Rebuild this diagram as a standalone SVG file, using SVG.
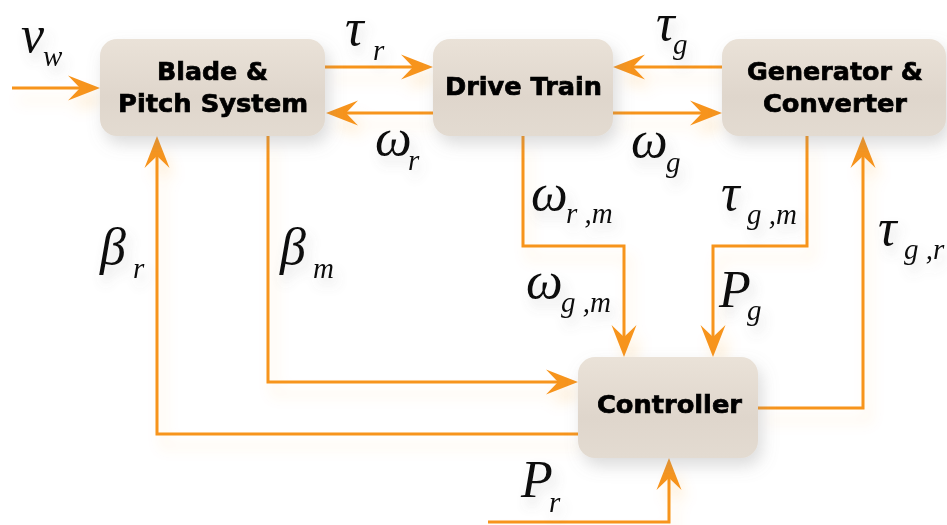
<svg xmlns="http://www.w3.org/2000/svg" width="947" height="525" viewBox="0 0 947 525">
<defs>
<linearGradient id="boxg" x1="0" y1="0" x2="0" y2="1">
<stop offset="0" stop-color="#EAE2D8"/>
<stop offset="0.6" stop-color="#DFD6CC"/>
<stop offset="1" stop-color="#E3DBD1"/>
</linearGradient>
<filter id="boxsh" x="-30%" y="-40%" width="160%" height="190%">
<feGaussianBlur in="SourceAlpha" stdDeviation="8" result="b"/>
<feOffset in="b" dx="4" dy="8" result="o"/>
<feFlood flood-color="#8a8a8a" flood-opacity="0.3"/>
<feComposite in2="o" operator="in" result="s"/>
<feMerge><feMergeNode in="s"/><feMergeNode in="SourceGraphic"/></feMerge>
</filter>
<filter id="glow" x="-10%" y="-10%" width="120%" height="130%">
<feGaussianBlur in="SourceAlpha" stdDeviation="7" result="b"/>
<feOffset in="b" dx="6" dy="12" result="o"/>
<feFlood flood-color="#F7941D" flood-opacity="0.16"/>
<feComposite in2="o" operator="in" result="s"/>
<feMerge><feMergeNode in="s"/><feMergeNode in="SourceGraphic"/></feMerge>
</filter>
<filter id="tsh" x="-30%" y="-30%" width="180%" height="180%">
<feGaussianBlur in="SourceAlpha" stdDeviation="6" result="b"/>
<feOffset in="b" dx="4" dy="8" result="o"/>
<feFlood flood-color="#707070" flood-opacity="0.22"/>
<feComposite in2="o" operator="in" result="s"/>
<feMerge><feMergeNode in="s"/><feMergeNode in="SourceGraphic"/></feMerge>
</filter>
<marker id="ah" markerUnits="userSpaceOnUse" markerWidth="36" markerHeight="30" viewBox="-26 -15 36 30" refX="0" refY="0" orient="auto">
<path d="M8,0 L-24,-12.5 L-12,0 L-24,12.5 Z" fill="#F7941D"/>
</marker>
</defs>
<style>
.box{fill:url(#boxg);}
.nt{font-family:"DejaVu Sans","Liberation Sans",sans-serif;font-weight:bold;font-size:25px;fill:#000;stroke:#000;stroke-width:0.7;text-anchor:middle;}
.c{fill:none;stroke:#F7941D;stroke-width:3;}
.a{marker-end:url(#ah);}
.m{font-family:"Liberation Serif","Times New Roman",serif;font-style:italic;font-size:52px;fill:#111;}
.s{font-size:29px;}
</style>

<g id="connectors" filter="url(#glow)">
<path class="c a" d="M12,88 H92"/>
<path class="c a" d="M325,67 H425"/>
<path class="c a" d="M433,113 H334"/>
<path class="c a" d="M722,67 H621"/>
<path class="c a" d="M613,113 H714"/>
<path class="c a" d="M578,434 H157 V144"/>
<path class="c a" d="M268,136 V382 H570"/>
<path class="c a" d="M523,136 V246 H624 V349"/>
<path class="c a" d="M807,136 V246 H713 V349"/>
<path class="c a" d="M758,408 H863 V144"/>
<path class="c a" d="M488,522 H669 V466"/>
</g>

<g id="blade" filter="url(#boxsh)">
<rect class="box" x="100" y="39" width="225" height="97" rx="17"/>
<text class="nt" x="212.5" y="80" textLength="111" lengthAdjust="spacingAndGlyphs">Blade &amp;</text>
<text class="nt" x="213" y="112" textLength="190" lengthAdjust="spacingAndGlyphs">Pitch System</text>
</g>
<g id="drivetrain" filter="url(#boxsh)">
<rect class="box" x="433" y="39" width="180" height="97" rx="17"/>
<text class="nt" x="523.5" y="95" textLength="157" lengthAdjust="spacingAndGlyphs">Drive Train</text>
</g>
<g id="generator" filter="url(#boxsh)">
<rect class="box" x="722" y="39" width="224" height="97" rx="17"/>
<text class="nt" x="835" y="80" textLength="176" lengthAdjust="spacingAndGlyphs">Generator &amp;</text>
<text class="nt" x="835" y="112" textLength="144" lengthAdjust="spacingAndGlyphs">Converter</text>
</g>
<g id="controller" filter="url(#boxsh)">
<rect class="box" x="578" y="357" width="180" height="101" rx="17"/>
<text class="nt" x="669.5" y="413" textLength="145" lengthAdjust="spacingAndGlyphs">Controller</text>
</g>

<g id="labels" filter="url(#tsh)">
<text class="m"><tspan x="21" y="52">v</tspan><tspan class="s" x="43" y="66">w</tspan></text>
<text class="m"><tspan x="345" y="45">τ</tspan><tspan class="s" x="373" y="60">r</tspan></text>
<text class="m"><tspan x="375" y="155">ω</tspan><tspan class="s" x="408" y="170">r</tspan></text>
<text class="m"><tspan x="656" y="40">τ</tspan><tspan class="s" x="673" y="54">g</tspan></text>
<text class="m"><tspan x="631" y="157">ω</tspan><tspan class="s" x="666" y="172">g</tspan></text>
<text class="m"><tspan x="100" y="264">β</tspan><tspan class="s" x="133" y="278">r</tspan></text>
<text class="m"><tspan x="280" y="264">β</tspan><tspan class="s" x="313" y="278">m</tspan></text>
<text class="m"><tspan x="531" y="210">ω</tspan><tspan class="s" x="566" y="223">r ,m</tspan></text>
<text class="m"><tspan x="721" y="210">τ</tspan><tspan class="s" x="747" y="224">g ,m</tspan></text>
<text class="m"><tspan x="526" y="298">ω</tspan><tspan class="s" x="561" y="312">g ,m</tspan></text>
<text class="m"><tspan x="719" y="307">P</tspan><tspan class="s" x="747" y="320">g</tspan></text>
<text class="m"><tspan x="878" y="245">τ</tspan><tspan class="s" x="904" y="259">g ,r</tspan></text>
<text class="m"><tspan x="521" y="497">P</tspan><tspan class="s" x="549" y="512">r</tspan></text>
</g>
</svg>
